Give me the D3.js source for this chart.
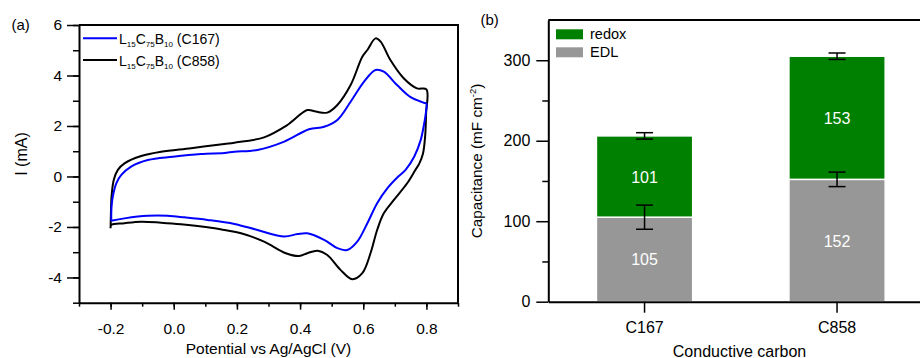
<!DOCTYPE html>
<html>
<head>
<meta charset="utf-8">
<script src="https://cdn.jsdelivr.net/npm/d3@7"></script>
<style>
  body { margin: 0; background: #fff; }
  svg { display: block; font-family: Arial, "Liberation Sans", sans-serif; }
</style>
</head>
<body>
<svg id="chart"></svg>
<script>
// ---- data ----
// CV loops: [potential V, current mA], forward scan then reverse scan
let cvC167 = [
  [-0.198, -1.75], [-0.197, -1.2], [-0.193, -0.8], [-0.182, -0.27], [-0.166, 0.06],
  [-0.135, 0.39], [-0.082, 0.65], [-0.003, 0.78], [0.086, 0.89], [0.16, 0.93],
  [0.192, 0.98], [0.265, 1.05], [0.35, 1.38], [0.428, 1.87], [0.476, 1.97],
  [0.518, 2.24], [0.56, 2.96], [0.602, 3.75], [0.639, 4.22], [0.665, 4.15],
  [0.707, 3.62], [0.75, 3.14], [0.792, 2.92], [0.8, 2.88],
  [0.799, 2.6], [0.793, 2.1], [0.782, 1.45], [0.762, 0.8], [0.734, 0.26],
  [0.707, -0.05], [0.676, -0.47], [0.644, -1.06], [0.613, -1.85], [0.581, -2.58],
  [0.549, -2.91], [0.518, -2.84], [0.476, -2.51], [0.423, -2.25], [0.392, -2.28],
  [0.35, -2.38], [0.265, -2.12], [0.192, -1.88], [0.107, -1.72], [0.034, -1.62],
  [-0.019, -1.56], [-0.082, -1.56], [-0.156, -1.66], [-0.198, -1.75]
];
let cvC858 = [
  [-0.2, -2.05], [-0.199, -1.5], [-0.197, -0.8], [-0.19, -0.14], [-0.177, 0.26],
  [-0.156, 0.52], [-0.103, 0.81], [-0.04, 0.98], [0.055, 1.12], [0.16, 1.29],
  [0.192, 1.34], [0.286, 1.55], [0.36, 2.04], [0.423, 2.63], [0.45, 2.57],
  [0.486, 2.53], [0.518, 2.83], [0.56, 3.62], [0.597, 4.74], [0.613, 5.01],
  [0.639, 5.47], [0.655, 5.34], [0.686, 4.61], [0.728, 3.89], [0.77, 3.49], [0.8, 3.45],
  [0.799, 2.5], [0.796, 1.6], [0.789, 0.9], [0.777, 0.5], [0.765, 0.26],
  [0.739, -0.27], [0.697, -0.93], [0.665, -1.46], [0.644, -2.12], [0.623, -3.04],
  [0.597, -3.83], [0.565, -4.07], [0.528, -3.70], [0.486, -3.11], [0.455, -2.94],
  [0.423, -3.04], [0.397, -3.15], [0.355, -3.04], [0.286, -2.58], [0.213, -2.25],
  [0.16, -2.12], [0.107, -2.01], [0.023, -1.89], [-0.04, -1.83], [-0.103, -1.79],
  [-0.156, -1.85], [-0.198, -1.92], [-0.2, -2.05]
];
let cvNames = ["(C167)", "(C858)"];

let xTicksL = [-0.2, 0.0, 0.2, 0.4, 0.6, 0.8];
let yTicksL = [-4, -2, 0, 2, 4, 6];

let categories = ["C167", "C858"];
let edl = [105, 152];
let redox = [101, 153];
let edlErr = [15, 9];
let totalErr = [4, 4];
let yTicksR = [0, 100, 200, 300];

// ---- canvas ----
let width = 920;
let height = 358;
let svg = d3.select("#chart").attr("width", width).attr("height", height);

let blue = "#0000ff";
let green = "#008000";
let gray = "#979797";

// ================= panel (a) =================
let xL = d3.scaleLinear().domain([-0.3, 0.9]).range([79, 458]);
let yL = d3.scaleLinear().domain([-5, 6]).range([302.7, 25]);

let line = d3.line()
  .x((d) => xL(d[0]))
  .y((d) => yL(d[1]))
  .curve(d3.curveCatmullRom.alpha(0.5));

svg.append("path").attr("d", line(cvC858))
  .attr("fill", "none").attr("stroke", "#000").attr("stroke-width", 2);
svg.append("path").attr("d", line(cvC167))
  .attr("fill", "none").attr("stroke", blue).attr("stroke-width", 2);

// minor ticks
svg.append("g")
  .attr("transform", "translate(0," + yL(-5) + ")")
  .call(d3.axisBottom(xL).tickValues(d3.range(-0.3, 0.95, 0.1)).tickSize(4).tickFormat(""))
  .call((g) => g.select(".domain").remove())
  .selectAll("line").attr("stroke-width", 1.5);
svg.append("g")
  .attr("transform", "translate(" + xL(-0.3) + ",0)")
  .call(d3.axisLeft(yL).tickValues(d3.range(-5, 6.5, 1)).tickSize(6).tickFormat(""))
  .call((g) => g.select(".domain").remove())
  .selectAll("line").attr("stroke-width", 1.5);

// major axes
let xAxisL = svg.append("g")
  .attr("transform", "translate(0," + yL(-5) + ")")
  .call(d3.axisBottom(xL).tickValues(xTicksL).tickSize(7).tickPadding(13).tickSizeOuter(0)
    .tickFormat(d3.format(".1f")));
let yAxisL = svg.append("g")
  .attr("transform", "translate(" + xL(-0.3) + ",0)")
  .call(d3.axisLeft(yL).tickValues(yTicksL).tickSize(12).tickPadding(5).tickSizeOuter(0)
    .tickFormat(d3.format("d")));
[xAxisL, yAxisL].forEach((g) => {
  g.selectAll("text").attr("font-size", 15.5).attr("fill", "#000").attr("font-family", null);
  g.selectAll("line").attr("stroke-width", 1.5);
  g.select(".domain").attr("stroke-width", 2);
});
xAxisL.selectAll("text").text((d) => (d < 0 ? "-" : "") + Math.abs(d).toFixed(1));
yAxisL.selectAll("text").text((d) => String(d).replace("\u2212", "-"));

// frame top/right
svg.append("path")
  .attr("d", "M" + xL(-0.3) + "," + yL(6) + "H" + xL(0.9) + "V" + yL(-5))
  .attr("fill", "none").attr("stroke", "#000").attr("stroke-width", 2);

// legend (a)
let legA = [{ c: blue, name: cvNames[0], y: 38.3 }, { c: "#000", name: cvNames[1], y: 60 }];
legA.forEach((d) => {
  svg.append("line").attr("x1", 83).attr("x2", 117).attr("y1", d.y).attr("y2", d.y)
    .attr("stroke", d.c).attr("stroke-width", 2);
  let t = svg.append("text").attr("x", 119).attr("y", d.y + 5.5).attr("font-size", 14);
  t.append("tspan").text("L");
  t.append("tspan").attr("font-size", 8).attr("dy", 3).text("15");
  t.append("tspan").attr("dy", -3).text("C");
  t.append("tspan").attr("font-size", 8).attr("dy", 3).text("75");
  t.append("tspan").attr("dy", -3).text("B");
  t.append("tspan").attr("font-size", 8).attr("dy", 3).text("10");
  t.append("tspan").attr("dy", -3).text(" " + d.name);
});

svg.append("text").attr("x", 11.5).attr("y", 30).attr("font-size", 15).text("(a)");
svg.append("text").attr("x", 268.5).attr("y", 353.5).attr("text-anchor", "middle")
  .attr("font-size", 15.5).text("Potential vs Ag/AgCl (V)");
svg.append("text").attr("transform", "translate(27,154) rotate(-90)")
  .attr("text-anchor", "middle").attr("font-size", 16).text("I (mA)");

// ================= panel (b) =================
let xR = d3.scaleBand().domain(categories).range([548.3, 933.3]).padding(0);
let yR = d3.scaleLinear().domain([0, 350]).range([301.7, 20]);
let barW = xR.bandwidth() * 0.5;

let rows = categories.map((c, i) => ({
  cat: c, edl: edl[i], redox: redox[i], edlErr: edlErr[i], totalErr: totalErr[i]
}));

// bars
svg.selectAll(".edl").data(rows).enter().append("rect")
  .attr("class", "edl")
  .attr("x", (d) => xR(d.cat) + xR.bandwidth() / 2 - barW / 2)
  .attr("width", barW)
  .attr("y", (d) => yR(d.edl))
  .attr("height", (d) => yR(0) - yR(d.edl))
  .attr("fill", gray).attr("stroke", "#fff").attr("stroke-width", 1.5);
svg.selectAll(".redox").data(rows).enter().append("rect")
  .attr("class", "redox")
  .attr("x", (d) => xR(d.cat) + xR.bandwidth() / 2 - barW / 2)
  .attr("width", barW)
  .attr("y", (d) => yR(d.edl + d.redox))
  .attr("height", (d) => yR(d.edl) - yR(d.edl + d.redox))
  .attr("fill", green).attr("stroke", "#fff").attr("stroke-width", 1.5);

// value labels
rows.forEach((d) => {
  let cx = xR(d.cat) + xR.bandwidth() / 2;
  svg.append("text").attr("x", cx).attr("y", (yR(0) + yR(d.edl)) / 2 + 6)
    .attr("text-anchor", "middle").attr("fill", "#fff").attr("font-size", 16).text(d.edl);
  svg.append("text").attr("x", cx).attr("y", (yR(d.edl) + yR(d.edl + d.redox)) / 2 + 6)
    .attr("text-anchor", "middle").attr("fill", "#fff").attr("font-size", 16).text(d.redox);
});

// error bars
let errs = [];
rows.forEach((d) => {
  errs.push({ cat: d.cat, v: d.edl, e: d.edlErr });
  errs.push({ cat: d.cat, v: d.edl + d.redox, e: d.totalErr });
});
errs.forEach((d) => {
  let cx = xR(d.cat) + xR.bandwidth() / 2;
  let g = svg.append("g").attr("stroke", "#000").attr("stroke-width", 1.5);
  g.append("line").attr("x1", cx).attr("x2", cx).attr("y1", yR(d.v + d.e)).attr("y2", yR(d.v - d.e));
  g.append("line").attr("x1", cx - 8.5).attr("x2", cx + 8.5).attr("y1", yR(d.v + d.e)).attr("y2", yR(d.v + d.e));
  g.append("line").attr("x1", cx - 8.5).attr("x2", cx + 8.5).attr("y1", yR(d.v - d.e)).attr("y2", yR(d.v - d.e));
});

// axes (b)
svg.append("g")
  .attr("transform", "translate(548.3,0)")
  .call(d3.axisLeft(yR).tickValues([50, 150, 250]).tickSize(6).tickFormat(""))
  .call((g) => g.select(".domain").remove())
  .selectAll("line").attr("stroke-width", 1.5);
let yAxisR = svg.append("g")
  .attr("transform", "translate(548.3,0)")
  .call(d3.axisLeft(yR).tickValues(yTicksR).tickSize(12).tickPadding(6).tickSizeOuter(0));
let xAxisR = svg.append("g")
  .attr("transform", "translate(0," + yR(0) + ")")
  .call(d3.axisBottom(xR).tickSize(11).tickPadding(9).tickSizeOuter(0));
[xAxisR, yAxisR].forEach((g) => {
  g.selectAll("text").attr("font-size", 16).attr("fill", "#000").attr("font-family", null);
  g.selectAll("line").attr("stroke-width", 1.5);
  g.select(".domain").attr("stroke-width", 2);
});
svg.append("line").attr("x1", 548.3).attr("x2", 920).attr("y1", yR(350)).attr("y2", yR(350))
  .attr("stroke", "#000").attr("stroke-width", 2);

// legend (b)
let legB = [{ c: green, name: "redox", y: 29.3 }, { c: gray, name: "EDL", y: 47.3 }];
legB.forEach((d) => {
  svg.append("rect").attr("x", 556).attr("y", d.y).attr("width", 27).attr("height", 10).attr("fill", d.c);
  svg.append("text").attr("x", 590).attr("y", d.y + 10).attr("font-size", 14.5).text(d.name);
});

svg.append("text").attr("x", 480.5).attr("y", 25).attr("font-size", 15).text("(b)");
svg.append("text").attr("x", 739.5).attr("y", 356.5).attr("text-anchor", "middle")
  .attr("font-size", 16).text("Conductive carbon");
let capLabel = svg.append("text").attr("transform", "translate(482,161) rotate(-90)")
  .attr("text-anchor", "middle").attr("font-size", 15.3);
capLabel.append("tspan").text("Capacitance (mF cm");
capLabel.append("tspan").attr("font-size", 9.5).attr("dy", -6).text("-2");
capLabel.append("tspan").attr("dy", 6).text(")");
</script>
</body>
</html>
